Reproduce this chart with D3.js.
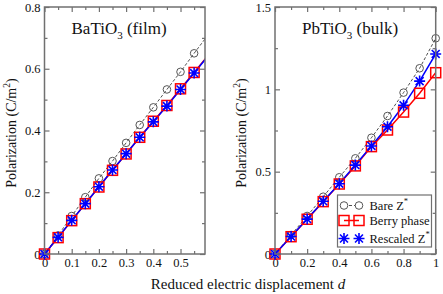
<!DOCTYPE html>
<html>
<head>
<meta charset="utf-8">
<script src="https://cdn.jsdelivr.net/npm/d3@7"></script>
<style>
  body { margin: 0; background: #fff; }
</style>
</head>
<body>
<div id="chart"></div>
<script>
// BaTiO3 (film)
var btoD        = [0, 0.05, 0.1, 0.15, 0.2, 0.25, 0.3, 0.35, 0.4, 0.45, 0.5, 0.55, 0.6];
var btoBare     = [0, 0.060, 0.123, 0.184, 0.245, 0.301, 0.360, 0.418, 0.475, 0.533, 0.590, 0.650, 0.708];
var btoBerry    = [0, 0.053, 0.108, 0.163, 0.217, 0.271, 0.324, 0.378, 0.430, 0.481, 0.535, 0.588, 0.642];
var btoRescaled = [0, 0.054, 0.109, 0.163, 0.218, 0.272, 0.325, 0.378, 0.428, 0.479, 0.533, 0.586, 0.640];

// PbTiO3 (bulk)
var ptoD        = [0, 0.1, 0.2, 0.3, 0.4, 0.5, 0.6, 0.7, 0.8, 0.9, 1.0];
var ptoBare     = [0, 0.115, 0.231, 0.348, 0.466, 0.581, 0.706, 0.838, 0.980, 1.128, 1.310];
var ptoBerry    = [0, 0.105, 0.211, 0.318, 0.425, 0.535, 0.652, 0.753, 0.862, 0.976, 1.101];
var ptoRescaled = [0, 0.106, 0.212, 0.320, 0.427, 0.540, 0.656, 0.773, 0.903, 1.050, 1.215];

var legendLabels = ["Bare Z", "Berry phase", "Rescaled Z"];

var width = 443, height = 294;
var frameColor = "#707070";
var serif = "'Liberation Serif'";

var svg = d3.select("#chart").append("svg")
  .attr("width", width)
  .attr("height", height)
  .attr("font-family", serif);

var panels = [
  { name: "bto", title: "BaTiO", titleRest: " (film)", left: 44.5, right: 205,
    xDomain: [0, 0.59], yDomain: [0, 0.8],
    xMajor: [0, 0.1, 0.2, 0.3, 0.4, 0.5], xMinor: [0.05, 0.15, 0.25, 0.35, 0.45, 0.55],
    yMajor: [0, 0.2, 0.4, 0.6, 0.8], yMinor: [0.1, 0.3, 0.5, 0.7],
    d: btoD, bare: btoBare, berry: btoBerry, rescaled: btoRescaled },
  { name: "pto", title: "PbTiO", titleRest: " (bulk)", left: 275, right: 435.7,
    xDomain: [0, 1], yDomain: [0, 1.5],
    xMajor: [0, 0.2, 0.4, 0.6, 0.8, 1], xMinor: [0.1, 0.3, 0.5, 0.7, 0.9],
    yMajor: [0, 0.5, 1, 1.5], yMinor: [0.25, 0.75, 1.25],
    d: ptoD, bare: ptoBare, berry: ptoBerry, rescaled: ptoRescaled }
];

var plotTop = 7, plotBottom = 254;
var fmt = d3.format("~g");

function starPath(r) {
  var a = r * 0.72;
  return "M" + (-r) + ",0L" + r + ",0M0," + (-r) + "L0," + r +
         "M" + (-a) + "," + (-a) + "L" + a + "," + a +
         "M" + (-a) + "," + a + "L" + a + "," + (-a);
}

panels.forEach(function(p) {
  var x = d3.scaleLinear().domain(p.xDomain).range([p.left, p.right]);
  var y = d3.scaleLinear().domain(p.yDomain).range([plotBottom, plotTop]);
  var g = svg.append("g");

  g.append("clipPath").attr("id", "clip-" + p.name)
    .append("rect")
    .attr("x", p.left).attr("y", plotTop)
    .attr("width", p.right - p.left).attr("height", plotBottom - plotTop);

  // ticks: major with labels, minor without, mirrored on top / right
  function addAxis(axis, tx, ty, labels) {
    var a = g.append("g").attr("transform", "translate(" + tx + "," + ty + ")").call(axis)
      .attr("font-family", serif).attr("font-size", 12.5);
    a.select(".domain").remove();
    a.selectAll(".tick line").attr("stroke", frameColor).attr("stroke-width", 1.2);
    a.selectAll(".tick text").attr("fill", "#111");
    if (!labels) a.selectAll(".tick text").remove();
    return a;
  }
  addAxis(d3.axisBottom(x).tickValues(p.xMajor).tickSize(-5).tickPadding(4).tickFormat(fmt), 0, plotBottom, true);
  addAxis(d3.axisBottom(x).tickValues(p.xMinor).tickSize(-3).tickFormat(""), 0, plotBottom, false);
  addAxis(d3.axisTop(x).tickValues(p.xMajor).tickSize(-5).tickFormat(""), 0, plotTop, false);
  addAxis(d3.axisTop(x).tickValues(p.xMinor).tickSize(-3).tickFormat(""), 0, plotTop, false);
  addAxis(d3.axisLeft(y).tickValues(p.yMajor).tickSize(-5).tickPadding(4).tickFormat(fmt), p.left, 0, true);
  addAxis(d3.axisLeft(y).tickValues(p.yMinor).tickSize(-3).tickFormat(""), p.left, 0, false);
  addAxis(d3.axisRight(y).tickValues(p.yMajor).tickSize(-5).tickFormat(""), p.right, 0, false);
  addAxis(d3.axisRight(y).tickValues(p.yMinor).tickSize(-3).tickFormat(""), p.right, 0, false);

  var pts = function(vals) {
    return p.d.map(function(d, i) { return [d, vals[i]]; });
  };
  var inside = function(pt) { return pt[0] <= p.xDomain[1] + 1e-9; };
  var line = d3.line().x(function(d) { return x(d[0]); }).y(function(d) { return y(d[1]); });

  var plot = g.append("g");
  var lines = plot.append("g").attr("clip-path", "url(#clip-" + p.name + ")");

  // Bare Z*
  lines.append("path").datum(pts(p.bare)).attr("d", line)
    .attr("fill", "none").attr("stroke", "#222").attr("stroke-width", 0.8)
    .attr("stroke-dasharray", "3,2");
  plot.append("g").selectAll("circle")
    .data(pts(p.bare).filter(inside)).enter().append("circle")
    .attr("cx", function(d) { return x(d[0]); })
    .attr("cy", function(d) { return y(d[1]); })
    .attr("r", 3.8).attr("fill", "none").attr("stroke", "#555").attr("stroke-width", 1);

  // Berry phase
  lines.append("path").datum(pts(p.berry)).attr("d", line)
    .attr("fill", "none").attr("stroke", "#ff0000").attr("stroke-width", 1.5);
  plot.append("g").selectAll("rect")
    .data(pts(p.berry).filter(inside)).enter().append("rect")
    .attr("x", function(d) { return x(d[0]) - 5; })
    .attr("y", function(d) { return y(d[1]) - 5; })
    .attr("width", 10).attr("height", 10)
    .attr("fill", "none").attr("stroke", "#ff0000").attr("stroke-width", 1.5);

  // Rescaled Z*
  lines.append("path").datum(pts(p.rescaled)).attr("d", line)
    .attr("fill", "none").attr("stroke", "#0000ff").attr("stroke-width", 1.5);
  plot.append("g").selectAll("path")
    .data(pts(p.rescaled).filter(inside)).enter().append("path")
    .attr("transform", function(d) { return "translate(" + x(d[0]) + "," + y(d[1]) + ")"; })
    .attr("d", starPath(5.5))
    .attr("fill", "none").attr("stroke", "#0000ff").attr("stroke-width", 1.6);

  // frame
  g.append("rect")
    .attr("x", p.left).attr("y", plotTop)
    .attr("width", p.right - p.left).attr("height", plotBottom - plotTop)
    .attr("fill", "none").attr("stroke", frameColor).attr("stroke-width", 1.5);

  // panel title
  var t = g.append("text").attr("x", p.left + 27).attr("y", 34)
    .attr("fill", "#111").attr("font-family", serif).attr("font-size", 17);
  t.append("tspan").text(p.title);
  t.append("tspan").attr("dy", 5).attr("font-size", 11).text("3");
  t.append("tspan").attr("dy", -5).text(p.titleRest);

  // y label
  var yl = g.append("text")
    .attr("transform", "translate(" + (p.left - 29) + "," + 133 + ") rotate(-90)")
    .attr("text-anchor", "middle").attr("fill", "#111")
    .attr("font-family", serif).attr("font-size", 14);
  yl.append("tspan").text("Polarization (C/m");
  yl.append("tspan").attr("dy", -6).attr("font-size", 9.5).text("2");
  yl.append("tspan").attr("dy", 6).text(")");
});

// x label
var xl = svg.append("text").attr("x", 248).attr("y", 289)
  .attr("text-anchor", "middle").attr("fill", "#111")
  .attr("font-family", serif).attr("font-size", 15);
xl.append("tspan").text("Reduced electric displacement ");
xl.append("tspan").attr("font-style", "italic").text("d");

// legend
var lg = svg.append("g").attr("transform", "translate(337.5,195)");
lg.append("rect").attr("width", 94).attr("height", 52)
  .attr("fill", "#fff").attr("stroke", frameColor).attr("stroke-width", 1.2);
var rowsY = [10.5, 25.5, 43.5];
var sx0 = 6.5, sx1 = 21.5;

lg.append("line").attr("x1", sx0).attr("x2", sx1).attr("y1", rowsY[0]).attr("y2", rowsY[0])
  .attr("stroke", "#222").attr("stroke-width", 0.8).attr("stroke-dasharray", "3,2");
[sx0, sx1].forEach(function(sx) {
  lg.append("circle").attr("cx", sx).attr("cy", rowsY[0]).attr("r", 3.8)
    .attr("fill", "#fff").attr("stroke", "#555").attr("stroke-width", 1);
});
lg.append("line").attr("x1", sx0).attr("x2", sx1).attr("y1", rowsY[1]).attr("y2", rowsY[1])
  .attr("stroke", "#ff0000").attr("stroke-width", 1.5);
[sx0, sx1].forEach(function(sx) {
  lg.append("rect").attr("x", sx - 5).attr("y", rowsY[1] - 5).attr("width", 10).attr("height", 10)
    .attr("fill", "none").attr("stroke", "#ff0000").attr("stroke-width", 1.5);
});
[sx0, sx1].forEach(function(sx) {
  lg.append("path").attr("transform", "translate(" + sx + "," + rowsY[2] + ")")
    .attr("d", starPath(5.5)).attr("fill", "none").attr("stroke", "#0000ff").attr("stroke-width", 1.6);
});

legendLabels.forEach(function(label, i) {
  var tx = lg.append("text").attr("x", 32).attr("y", rowsY[i] + 4.5).attr("fill", "#111")
    .attr("font-family", serif).attr("font-size", 12.5);
  tx.append("tspan").text(label);
  if (i !== 1) tx.append("tspan").attr("dy", -6).attr("font-size", 8.5).text("*");
});
</script>
</body>
</html>
